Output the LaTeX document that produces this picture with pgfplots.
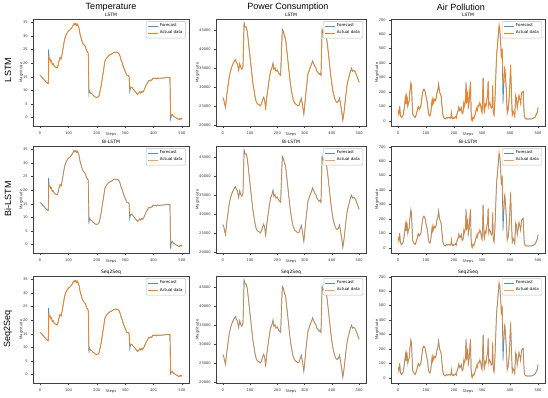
\documentclass[border=0pt]{standalone}
\usepackage{pgfplots}
\usepackage{pgfplotstable}
\pgfplotsset{compat=1.18}
\usepackage{fontspec}
\setmainfont{DejaVu Sans}
\newfontfamily\titlefont{Liberation Sans}
\definecolor{mblue}{HTML}{1F77B4}
\definecolor{morange}{HTML}{FF7F0E}

\pgfplotstableread{
x a f1 f2 f3
0 15.5 15.5 15.5 15.5
5 15.0 15.0 15.0 15.0
10 14.3 14.3 14.3 14.3
15 13.8 13.8 13.8 13.8
20 13.2 13.2 13.2 13.2
25 12.7 12.7 12.7 12.7
29 12.5 12.5 12.5 12.5
30 22.5 25.0 24.5 24.5
32 21.0 22.0 21.5 21.5
35 21.5 21.5 21.5 21.5
38 20.5 20.5 20.5 20.5
40 20.8 20.8 20.8 20.8
43 19.5 19.5 19.5 19.5
46 19.8 19.8 19.8 19.8
50 18.8 18.8 18.8 18.8
55 18.5 18.5 18.5 18.5
60 18.2 18.2 18.2 18.2
63 19.0 19.0 19.0 19.0
66 20.5 20.5 20.5 20.5
70 22.0 22.0 22.0 22.0
74 21.5 21.5 21.5 21.5
78 23.5 23.5 23.5 23.5
82 26.0 26.0 26.0 26.0
86 28.5 28.5 28.5 28.5
90 30.0 30.0 30.0 30.0
95 31.0 31.0 31.0 31.0
100 31.8 31.8 31.8 31.8
104 32.0 32.0 32.0 32.0
108 32.5 32.5 32.5 32.5
112 33.0 33.0 33.0 33.0
116 33.8 33.8 33.8 33.8
120 34.5 34.5 34.5 34.5
123 34.0 34.0 34.0 34.0
126 34.5 34.5 34.5 34.5
129 33.8 33.8 33.8 33.8
132 34.3 34.3 34.3 34.3
135 33.5 33.5 33.5 33.5
138 32.5 32.5 32.5 32.5
141 30.5 30.5 30.5 30.5
144 29.5 29.5 29.5 29.5
148 28.0 28.0 28.0 28.0
152 27.0 27.0 27.0 27.0
156 26.5 26.5 26.5 26.5
160 26.0 26.0 26.0 26.0
164 24.5 24.5 24.5 24.5
168 24.0 24.0 24.0 24.0
170 23.5 23.5 23.5 23.5
172 10.5 8.5 7.5 8.0
174 10.0 9.5 9.5 9.5
178 9.0 9.0 9.0 9.0
182 8.8 8.8 8.8 8.8
186 8.3 8.3 8.3 8.3
190 8.0 8.0 8.0 8.0
195 7.5 7.5 7.5 7.5
200 7.4 7.4 7.4 7.4
205 7.6 7.6 7.6 7.6
208 8.0 8.0 8.0 8.0
212 10.0 10.0 10.0 10.0
216 12.0 12.0 12.0 12.0
220 15.0 15.0 15.0 15.0
224 17.5 17.5 17.5 17.5
228 20.5 20.5 20.5 20.5
232 21.5 21.5 21.5 21.5
236 22.0 22.0 22.0 22.0
240 22.5 22.5 22.5 22.5
245 23.0 23.0 23.0 23.0
250 23.2 23.2 23.2 23.2
255 23.5 23.5 23.5 23.5
260 24.0 24.0 24.0 24.0
265 24.0 24.0 24.0 24.0
270 24.0 24.0 24.0 24.0
275 23.8 23.8 23.8 23.8
278 23.5 23.5 23.5 23.5
282 22.5 22.5 22.5 22.5
286 21.0 21.0 21.0 21.0
290 20.0 20.0 20.0 20.0
294 18.5 18.5 18.5 18.5
298 17.5 17.5 17.5 17.5
302 16.5 16.5 16.5 16.5
306 15.5 15.5 15.5 15.5
310 15.5 15.5 15.5 15.5
314 15.0 15.0 15.0 15.0
316 11.0 9.5 9.5 9.5
320 11.2 11.2 11.2 11.2
324 11.0 11.0 11.0 11.0
328 10.5 10.5 10.5 10.5
332 10.0 10.0 10.0 10.0
336 9.5 9.5 9.5 9.5
340 9.0 9.0 9.0 9.0
344 8.5 8.5 8.5 8.5
348 9.0 9.0 9.0 9.0
352 9.5 9.5 9.5 9.5
355 9.0 9.0 9.0 9.0
358 9.5 9.5 9.5 9.5
362 9.3 9.3 9.3 9.3
366 10.0 10.0 10.0 10.0
370 11.0 11.0 11.0 11.0
374 12.0 12.0 12.0 12.0
378 12.5 12.5 12.5 12.5
382 13.5 13.5 13.5 13.5
386 13.5 13.5 13.5 13.5
390 13.8 13.8 13.8 13.8
394 13.7 13.7 13.7 13.7
398 14.5 14.5 14.5 14.5
402 14.3 14.3 14.3 14.3
406 14.5 14.5 14.5 14.5
410 14.2 14.2 14.2 14.2
415 14.5 14.5 14.5 14.5
420 14.4 14.4 14.4 14.4
430 14.5 14.5 14.5 14.5
440 14.6 14.6 14.6 14.6
450 14.8 14.8 14.8 14.8
455 14.6 14.6 14.6 14.6
458 14.7 14.7 14.7 14.7
460 1.0 -0.5 -1.5 0.3
463 0.8 0.8 0.8 0.8
466 1.2 1.2 1.2 1.2
470 0.5 0.5 0.5 0.5
474 0.3 0.3 0.3 0.3
478 0.0 0.0 0.0 0.0
482 -0.3 -0.3 -0.3 -0.3
486 -0.5 -0.5 -0.5 -0.5
490 -0.8 -0.8 -0.8 -0.8
494 -0.3 -0.3 -0.3 -0.3
497 -0.6 -0.6 -0.6 -0.6
500 -0.2 -0.2 -0.2 -0.2
}\temp

\pgfplotstableread{
x a f
0 26800 27400
3 27000 27000
6 25900 25900
10 24900 24700
14 27700 27700
18 29900 29900
23 32600 32600
28 34300 34300
34 35700 35700
40 36600 36600
46 37200 37400
50 36600 36600
54 36100 36100
58 34800 34400
62 36100 36300
66 35200 35200
70 34800 34800
74 35600 35600
78 46500 47000
82 45900 45900
86 45900 45900
90 44600 44600
94 41900 41900
98 39200 39200
102 36600 36600
106 33900 33900
110 31300 31300
114 29500 29500
118 27700 27700
122 26400 26400
126 25800 25800
132 25500 25500
138 25200 25200
142 25800 25800
146 26800 26800
150 27300 27500
154 26400 26400
157 24600 24200
160 26800 26800
165 29500 29500
170 32100 32100
175 34300 34300
180 35200 35200
184 36100 36500
187 34800 34800
191 35200 35200
195 34300 34300
200 34600 34600
204 33900 33900
208 33500 33500
212 33200 33200
218 45000 45300
222 44800 44800
226 43700 43300
230 42800 42800
234 40100 40100
238 37500 37500
242 34800 34800
246 32100 32100
250 29900 29900
254 28200 28200
258 26800 26800
264 25900 25900
270 25500 25500
276 25200 25200
280 25400 25400
284 26400 26400
288 26800 27200
292 25500 25500
297 23300 22900
300 25000 25000
304 28200 28200
308 30800 30800
312 33500 33500
316 34300 34300
320 35200 35200
325 36100 36100
329 36700 37000
333 36300 36300
337 35600 35600
341 35200 35200
345 34300 34300
349 33900 33900
353 33500 33500
356 33700 33700
360 33200 33200
364 45000 45300
368 44600 44200
372 44800 44800
376 44600 44600
380 43200 43200
384 41000 41000
388 38400 38400
392 35700 35700
396 33000 33000
400 30800 30800
404 29000 29000
408 27700 27700
412 26800 26800
416 26200 26200
420 26100 26100
424 26400 26400
428 27000 27300
432 25500 25500
436 23700 23700
440 21700 21300
444 23300 23300
448 25900 25900
452 28600 28600
456 30800 30800
460 32100 32100
464 33200 33200
468 34300 34300
472 34800 35100
476 34300 34300
480 34500 34500
484 34300 34300
488 33700 33700
492 32900 32900
496 32100 32100
500 31400 31400
}\power

\pgfplotstableread{
x a f
0 30 60
2 70 70
4 60 55
6 100 105
8 55 50
10 35 30
13 25 25
16 30 30
19 50 45
22 90 80
25 140 130
27 170 175
29 120 115
31 180 180
33 160 150
35 100 100
37 130 125
40 140 135
42 200 195
44 230 225
46 260 265
48 250 240
50 150 160
52 50 60
55 40 40
58 35 30
61 25 25
64 35 40
67 60 55
70 90 80
73 100 100
76 80 85
79 95 90
82 110 105
85 160 150
88 200 200
91 215 220
94 220 215
97 200 205
100 170 170
103 140 145
106 110 115
108 60 70
111 40 40
114 35 35
117 60 55
120 120 110
122 150 145
124 110 115
126 150 140
128 130 135
130 150 150
133 145 140
136 160 155
139 200 190
142 210 210
145 250 260
148 200 210
151 190 185
154 170 175
157 100 110
160 40 50
163 25 25
166 15 20
170 20 15
174 25 25
178 20 20
182 25 25
186 20 20
189 25 25
191 60 55
193 20 25
196 15 15
199 25 20
202 20 25
205 30 30
208 20 20
211 55 50
214 70 65
217 100 95
220 70 80
223 80 75
226 90 95
229 50 55
232 60 55
235 130 120
238 100 110
241 150 140
243 260 270
245 120 130
247 180 170
249 200 200
251 90 95
254 140 130
257 230 220
259 270 265
261 60 70
263 10 15
265 0 5
268 30 25
271 15 20
274 40 35
277 60 55
280 90 80
283 70 75
286 110 105
289 100 105
292 130 120
295 110 115
298 70 75
300 60 60
302 150 140
304 300 300
306 150 160
308 50 60
311 120 110
314 100 105
317 150 145
320 180 175
322 280 270
324 100 110
327 130 125
330 110 115
333 90 90
336 100 95
338 250 240
340 60 70
343 40 45
346 140 130
349 300 290
352 460 450
355 520 510
358 600 580
361 670 650
363 640 650
366 560 570
369 440 450
372 500 480
375 300 120
378 250 260
381 380 370
384 300 310
387 200 210
390 50 60
393 80 70
396 140 130
399 230 220
402 390 380
405 200 210
408 35 40
411 70 65
414 50 55
417 35 30
420 180 170
423 150 160
426 90 95
429 140 130
432 180 175
435 150 155
438 120 125
441 195 190
444 200 200
447 205 205
449 100 110
451 35 40
454 18 20
458 15 15
465 15 15
472 15 15
478 16 15
484 20 20
488 25 25
491 35 30
494 50 45
497 60 55
500 96 90
}\air

\pgfplotsset{
  panel/.style={
    scale only axis, height=107pt,
    anchor=south west,
    axis line style={draw=black!75, line width=0.9pt},
    tick align=outside, tick pos=left,
    major tick length=1.8pt,
    every tick/.style={black!75, line width=0.4pt},
    tick label style={font=\fontsize{3.6}{4}\selectfont, text=black!80},
    /pgf/number format/assume math mode=true,
    /pgf/number format/1000 sep={},
    scaled y ticks=false,
    xtick={0,100,...,500},
    xmin=-25, xmax=525,
    xlabel={Steps}, ylabel={Magnitude},
    label style={font=\fontsize{3.8}{4}\selectfont, text=black!80},
    xlabel style={at={(axis description cs:0.5,0)}, anchor=center, inner sep=0pt, yshift=-8pt},
    ylabel style={yshift=-7pt},
    every axis title shift=0pt,
    title style={font=\fontsize{4.5}{5}\selectfont, at={(axis description cs:0.5,1)}, anchor=south, inner sep=0pt, yshift=1.8pt},
    legend style={at={(0.98,0.98)}, anchor=north east,
      font=\fontsize{4}{4.5}\selectfont, draw=black!25, rounded corners=1pt,
      inner xsep=1pt, inner ysep=0.7pt, row sep=-1.5pt},
    legend cell align=left,
    legend image code/.code={\draw[##1, line width=0.7pt] (0pt,0pt) -- (10pt,0pt);},
  },
  tempax/.style={width=156pt, ymin=-3.1, ymax=36.2, ytick={0,5,...,35}},
  powax/.style={width=150pt, ymin=19900, ymax=48000, ytick={20000,25000,...,45000}},
  airax/.style={width=154pt, ymin=-34, ymax=705, ytick={0,100,...,700}},
  fc/.style={mblue, line width=0.7pt, opacity=0.8},
  ac/.style={morange, line width=0.7pt},
  acl/.style={morange, line width=0.7pt, opacity=0.75},
}

\begin{document}
\begin{tikzpicture}
\path[use as bounding box] (0,0) rectangle (548pt,397pt);
% column and row headings
\tikzset{hd/.style={font=\titlefont\fontsize{9}{10}\selectfont, inner sep=0pt}}
\node[hd] at (111pt,390pt) {Temperature};
\node[hd] at (288pt,390pt) {Power Consumption};
\node[hd] at (461pt,390pt) {Air Pollution};
\node[hd, rotate=90] at (8pt,327pt) {LSTM};
\node[hd, rotate=90] at (8pt,198pt) {Bi-LSTM};
\node[hd, rotate=90] at (8pt,68pt) {Seq2Seq};

% Row 1: LSTM
\begin{axis}[panel, tempax, at={(33pt,271pt)}, title={LSTM}]
\addplot[fc] table[x=x,y=f1]{\temp};
\addplot[ac] table[x=x,y=a]{\temp};
\legend{Forecast, Actual data}
\end{axis}
\begin{axis}[panel, powax, at={(216pt,271pt)}, title={LSTM}]
\addplot[fc] table[x=x,y=f]{\power};
\addplot[ac] table[x=x,y=a]{\power};
\legend{Forecast, Actual data}
\end{axis}
\begin{axis}[panel, airax, at={(391pt,271pt)}, title={LSTM}]
\addplot[fc] table[x=x,y=f]{\air};
\addplot[ac] table[x=x,y=a]{\air};
\legend{Forecast, Actual data}
\end{axis}

% Row 2: Bi-LSTM
\begin{axis}[panel, tempax, at={(33pt,144pt)}, title={Bi-LSTM}]
\addplot[fc] table[x=x,y=f2]{\temp};
\addplot[acl] table[x=x,y=a]{\temp};
\legend{Forecast, Actual data}
\end{axis}
\begin{axis}[panel, powax, at={(216pt,144pt)}, title={Bi-LSTM}]
\addplot[fc] table[x=x,y=f]{\power};
\addplot[acl] table[x=x,y=a]{\power};
\legend{Forecast, Actual data}
\end{axis}
\begin{axis}[panel, airax, at={(391pt,144pt)}, title={Bi-LSTM}]
\addplot[fc] table[x=x,y=f]{\air};
\addplot[acl] table[x=x,y=a]{\air};
\legend{Forecast, Actual data}
\end{axis}

% Row 3: Seq2Seq
\begin{axis}[panel, tempax, at={(33pt,14pt)}, title={Seq2Seq}]
\addplot[fc] table[x=x,y=f3]{\temp};
\addplot[ac] table[x=x,y=a]{\temp};
\legend{Forecast, Actual data}
\end{axis}
\begin{axis}[panel, powax, at={(216pt,14pt)}, title={Seq2Seq}]
\addplot[fc] table[x=x,y=f]{\power};
\addplot[acl] table[x=x,y=a]{\power};
\legend{Forecast, Actual data}
\end{axis}
\begin{axis}[panel, airax, at={(391pt,14pt)}, title={Seq2Seq}]
\addplot[fc] table[x=x,y=f]{\air};
\addplot[acl] table[x=x,y=a]{\air};
\legend{Forecast, Actual data}
\end{axis}
\end{tikzpicture}
\end{document}
